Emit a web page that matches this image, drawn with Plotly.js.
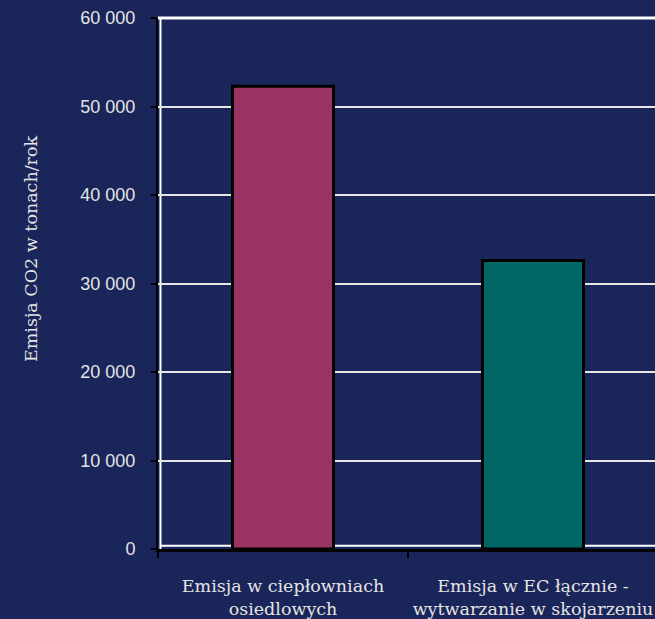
<!DOCTYPE html>
<html>
<head>
<meta charset="utf-8">
<script src="https://cdn.plot.ly/plotly-3.0.1.min.js"></script>
<style>html,body{margin:0;padding:0;background:#1a2559;}</style>
</head>
<body>
<div id="chart" style="width:655px;height:619px;"></div>
<script>
const categories = ["Emisja w ciepłowniach<br>osiedlowych", "Emisja w EC łącznie -<br>wytwarzanie w skojarzeniu"];
const values = [52300, 32600];
const barColors = ["#993366", "#006666"];
const yTicks = [0, 10000, 20000, 30000, 40000, 50000, 60000];
const yTickLabels = ["0", "10 000", "20 000", "30 000", "40 000", "50 000", "60 000"];
const yTitle = "Emisja CO2 w tonach/rok";

const bg = "#1a2559";
const txt = "#e4e4e4";

Plotly.newPlot("chart", [{
  type: "bar",
  x: categories,
  y: values,
  width: 0.404,
  marker: {color: barColors, line: {color: "#000000", width: 3}},
  hoverinfo: "none"
}], {
  width: 655, height: 619,
  paper_bgcolor: bg, plot_bgcolor: bg,
  margin: {l: 158, r: 0, t: 18, b: 70},
  showlegend: false,
  xaxis: {
    range: [-0.5, 1.488],
    showgrid: false, zeroline: false,
    showline: true, linecolor: "#000000", linewidth: 3,
    ticks: "outside", tickson: "boundaries", ticklen: 6, tickcolor: "#000000", tickwidth: 2,
    tickangle: 0,
    ticklabelstandoff: 19,
    tickfont: {family: "DejaVu Serif", size: 17.5, color: txt}
  },
  yaxis: {
    range: [0, 60000],
    tickvals: yTicks, ticktext: yTickLabels,
    showgrid: true, gridcolor: "#e6e6e6", gridwidth: 2,
    zeroline: false,
    showline: true, linecolor: "#000000", linewidth: 2,
    ticks: "outside", ticklen: 5, tickcolor: "#000000", tickwidth: 2,
    ticklabelstandoff: 12,
    tickfont: {family: "Liberation Sans", size: 18, color: txt}
  },
  annotations: [
    {text: yTitle, xref: "paper", yref: "paper", x: (31 - 158) / 497, y: (549 - 249) / 531,
     xanchor: "center", yanchor: "middle", textangle: -90, showarrow: false,
     font: {family: "DejaVu Serif", size: 17.5, color: txt}}
  ],
  shapes: [
    {type: "line", xref: "paper", yref: "paper", x0: 0.005, x1: 0.005, y0: 0, y1: 1, line: {color: "#ffffff", width: 2}, layer: "below"},
    {type: "line", xref: "paper", yref: "paper", x0: 0, x1: 1, y0: 1, y1: 1, line: {color: "#ffffff", width: 3}, layer: "below"},
    {type: "line", xref: "paper", yref: "paper", x0: 0.005, x1: 1, y0: 0.006, y1: 0.006, line: {color: "#ffffff", width: 2}, layer: "below"}
  ]
}, {displayModeBar: false, staticPlot: true});
</script>
</body>
</html>
